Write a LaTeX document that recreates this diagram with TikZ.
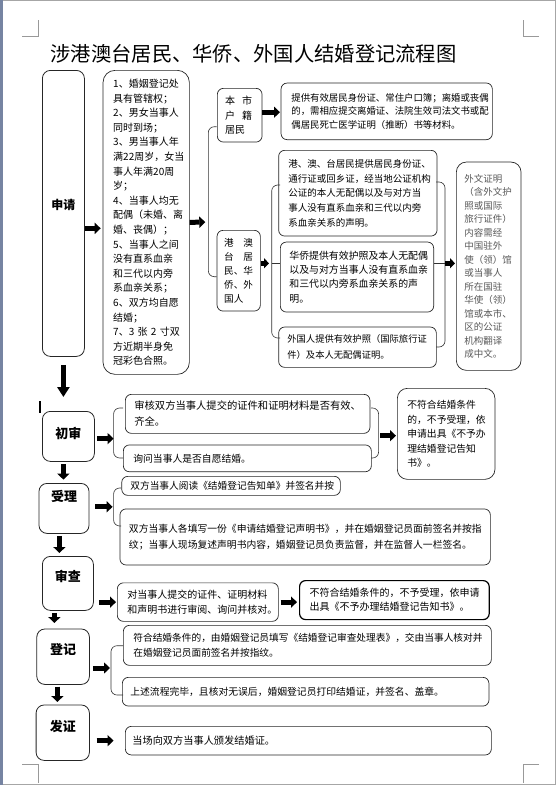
\documentclass[tikz,border=0pt]{standalone}
\usepackage{fontspec}
\setmainfont{Noto Sans CJK SC}
\usetikzlibrary{arrows.meta}
\definecolor{biankuang}{RGB}{118,132,162}

\begin{document}
\begin{tikzpicture}[x=1pt, y=-1pt,
  kuang/.style={draw=black!85, line width=0.7pt, rounded corners=6pt, anchor=north west, inner sep=0pt, align=left},
  jieduan/.style={draw=black!85, line width=0.8pt, rounded corners=8pt, anchor=north west, inner sep=0pt, font=\fontsize{13}{13}\selectfont\bfseries},
  kuohao/.style={draw=black!80, line width=0.6pt, rounded corners=6pt},
  jiantou/.style={line width=5pt, -{Triangle[length=6pt,width=11pt]}},
  xiajian/.style={line width=5pt, -{Triangle[length=6pt,width=12pt]}},
  caijian/.style={draw=black!40, line width=0.6pt}]
  \useasboundingbox (0,0) rectangle (556,785);
  \fill[white] (0,0) rectangle (556,785);
  \draw[black!35] (0.5,0.5) rectangle (555.5,784.5);
  \fill[biankuang] (0,0) rectangle (3,785);
  % crop marks
  \draw[caijian] (22,36) -- (38.6,36) -- (38.6,20);
  \draw[caijian] (539,36) -- (523,36) -- (523,20);
  \draw[caijian] (22,764) -- (38.6,764) -- (38.6,783);
  \draw[caijian] (539,764) -- (523,764) -- (523,783);
  \draw[line width=1.4pt] (40,401) -- (40,413);

  \node[anchor=west, font=\fontsize{20.3}{20.3}\selectfont] (biaoti) at (47,54) {涉港澳台居民、华侨、外国人结婚登记流程图};

  % stages
  \node[jieduan, minimum width=42pt, minimum height=286pt] (shenqing) at (42,70) {\raisebox{8pt}[\height][\depth]{\fontsize{12}{12}\selectfont 申请}};
  \node[jieduan, minimum width=52pt, minimum height=50pt] (chushen) at (42,411) {\raisebox{3pt}[\height][\depth]{初审}};
  \node[jieduan, minimum width=50pt, minimum height=50pt] (shouli) at (38.6,483) {\raisebox{12pt}[\height][\depth]{受理}};
  \node[jieduan, minimum width=51pt, minimum height=54pt] (shencha) at (42,556) {\raisebox{7pt}[\height][\depth]{审查}\hspace{10pt}};
  \node[jieduan, minimum width=52.6pt, minimum height=55.4pt] (dengji) at (36.4,628.6) {\raisebox{7pt}[\height][\depth]{登记}\hspace{7pt}};
  \node[jieduan, minimum width=53.3pt, minimum height=55.4pt] (fazheng) at (35.7,704.6) {\raisebox{6pt}[\height][\depth]{发证}\hspace{10pt}};

  % 申请
  \node[kuang, rounded corners=12pt, minimum width=86.3pt, minimum height=304pt, text width=66pt, font=\fontsize{10}{14.6}\selectfont] (tiaojian) at (102.7,70) {1、婚姻登记处\\具有管辖权；\\2、男女当事人\\同时到场；\\3、男当事人年\\满22周岁，女当\\事人年满20周\\岁；\\4、当事人均无\\配偶（未婚、离\\婚、丧偶）；\\5、当事人之间\\没有直系血亲\\和三代以内旁\\系血亲关系；\\6、双方均自愿\\结婚；\\7、3~张~2~寸双\\方近期半身免\\冠彩色合照。};
  \node[kuang, minimum width=44.7pt, minimum height=53.7pt, text width=29pt, font=\fontsize{10}{14.2}\selectfont] (benshi) at (217,88) {\mbox{本\hspace{7pt}市}\\\mbox{户\hspace{7pt}籍}\\居民};
  \node[kuang, minimum width=211.3pt, minimum height=56.6pt, text width=190.7pt, font=\fontsize{9.4}{13.7}\selectfont] (zhengjian) at (280.7,82.7) {提供有效居民身份证、常住户口簿；离婚或丧偶\\的，需相应提交离婚证、法院生效司法文书或配\\偶居民死亡医学证明（推断）书等材料。};
  \node[kuang, minimum width=43.3pt, minimum height=80.7pt, text width=29pt, font=\fontsize{9.6}{14}\selectfont] (gangao) at (216.7,230) {\mbox{港\hspace{9.5pt}澳}\\\mbox{台\hspace{9.5pt}居}\\民、华\\侨、外\\国人};
  \node[kuang, minimum width=158.4pt, minimum height=85.7pt, text width=139pt, font=\fontsize{9.5}{14.6}\selectfont] (gangaotai) at (278.3,150) {港、澳、台居民提供居民身份证、\\通行证或回乡证，经当地公证机构\\公证的本人无配偶以及与对方当\\事人没有直系血亲和三代以内旁\\系血亲关系的声明。};
  \node[kuang, minimum width=153.3pt, minimum height=70pt, text width=135.3pt, font=\fontsize{9.9}{14.4}\selectfont] (huaqiao) at (280,241.7) {华侨提供有效护照及本人无配偶\\以及与对方当事人没有直系血亲\\和三代以内旁系血亲关系的声\\明。};
  \node[kuang, minimum width=157.7pt, minimum height=40.3pt, text width=140.3pt, font=\fontsize{9.3}{15.7}\selectfont] (waiguoren) at (278.3,326.7) {外国人提供有效护照（国际旅行证\\件）及本人无配偶证明。};
  \node[kuang, rounded corners=10pt, minimum width=64.7pt, minimum height=208.3pt, text width=48.7pt, text=black!65, font=\fontsize{9.5}{13.5}\selectfont] (waiwen) at (456,161.7) {外文证明\\（含外文护\\照或国际\\旅行证件）\\内容需经\\中国驻外\\使（领）馆\\或当事人\\所在国驻\\华使（领）\\馆或本市、\\区的公证\\机构翻译\\成中文。};

  % 初审
  \node[kuang, minimum width=244.6pt, minimum height=39pt, text width=226.6pt, font=\fontsize{10.3}{16}\selectfont] (shenhe) at (125,394) {审核双方当事人提交的证件和证明材料是否有效、\\齐全。};
  \node[kuang, minimum width=248pt, minimum height=26.8pt, text width=228pt, font=\fontsize{9.8}{14}\selectfont] (xunwen) at (123,444.6) {询问当事人是否自愿结婚。};
  \node[kuang, rounded corners=10pt, minimum width=97.6pt, minimum height=91pt, text width=77.6pt, font=\fontsize{9.8}{14.5}\selectfont] (buhefu1) at (397,388) {不符合结婚条件\\的，不予受理，依\\申请出具《不予办\\理结婚登记告知\\书》。};

  % 受理
  \node[kuang, minimum width=218.6pt, minimum height=19pt, text width=201.4pt, font=\fontsize{9.7}{14}\selectfont] (yuedu) at (121.4,476) {双方当事人阅读《结婚登记告知单》并签名并按};
  \node[kuang, minimum width=370.4pt, minimum height=56pt, text width=352.4pt, font=\fontsize{9.8}{15.4}\selectfont] (tianxie) at (119.6,508.6) {双方当事人各填写一份《申请结婚登记声明书》，并在婚姻登记员面前签名并按指\\纹；当事人现场复述声明书内容，婚姻登记员负责监督，并在监督人一栏签名。};

  % 审查
  \node[kuang, minimum width=161pt, minimum height=38.5pt, text width=141pt, font=\fontsize{10}{14.2}\selectfont] (shenyue) at (117,582.5) {对当事人提交的证件、证明材料\\和声明书进行审阅、询问并核对。};
  \node[kuang, draw=black, line width=1.2pt, minimum width=189.6pt, minimum height=39pt, text width=169.6pt, font=\fontsize{10}{14}\selectfont] (buhefu2) at (299,580) {不符合结婚条件的，不予受理，依申请\\出具《不予办理结婚登记告知书》。};

  % 登记, 发证
  \node[kuang, minimum width=368pt, minimum height=40pt, text width=348pt, font=\fontsize{9.7}{15.7}\selectfont] (fuhe) at (123,625) {符合结婚条件的，由婚姻登记员填写《结婚登记审查处理表》，交由当事人核对并\\在婚姻登记员面前签名并按指纹。};
  \node[kuang, minimum width=366.6pt, minimum height=28.7pt, text width=350.6pt, font=\fontsize{9.8}{14}\selectfont] (dayin) at (122,677) {上述流程完毕，且核对无误后，婚姻登记员打印结婚证，并签名、盖章。};
  \node[kuang, minimum width=366pt, minimum height=28.6pt, text width=352pt, font=\fontsize{10.2}{14}\selectfont] (banfa) at (125,726) {当场向双方当事人颁发结婚证。};

  % brackets
  \draw[kuohao] (216.7,126.7) -- (208.3,126.7) -- (208.3,276.7) -- (216.7,276.7);
  \draw[kuohao] (280,185) -- (271.7,185) -- (271.7,338) -- (280,338);
  \draw[kuohao] (436,182) -- (445,182) -- (445,347) -- (436,347);
  \draw[kuohao] (123,408) -- (113.6,408) -- (113.6,458) -- (123,458);
  \draw[kuohao] (371,408) -- (378.6,408) -- (378.6,458) -- (371,458);
  \draw[kuohao] (121,488) -- (113.6,488) -- (113.6,526) -- (121,526);
  \draw[kuohao] (123,645.7) -- (111,645.7) -- (111,695) -- (123,695);
  \coordinate (k1) at (208.3,222);
  \coordinate (k2) at (271.7,263.3);
  \coordinate (k3) at (445,263.3);
  \coordinate (k4) at (113.6,438.6);
  \coordinate (k5) at (378.6,435.7);
  \coordinate (k6) at (113.6,506.8);
  \coordinate (k7) at (111,668);
  \draw[black!80, line width=0.6pt] (k2) -- (k2 -| huaqiao.west);
  \draw[black!80, line width=0.6pt] (k3 -| huaqiao.east) -- (k3);

  % arrows
  \draw[jiantou, shorten >=2pt] ([yshift=-6pt]shenqing.east |- tiaojian.west) -- ([yshift=-6pt]tiaojian.west);
  \draw[jiantou, shorten >=3pt] (tiaojian.east) -- (k1);
  \draw[jiantou, shorten >=0.7pt] ([yshift=3pt]benshi.east) -- ([yshift=3pt]benshi.east -| zhengjian.west);
  \draw[jiantou, -{Triangle[length=5pt,width=10pt]}, shorten >=2.7pt] (gangao.east |- k2) -- (k2);
  \draw[jiantou, -{Triangle[length=5pt,width=10pt]}, shorten >=1pt] (k3) -- (k3 -| waiwen.west);
  \draw[jiantou, shorten <=2.4pt] (chushen.east |- k4) -- (k4);
  \draw[jiantou, shorten <=1.4pt, shorten >=1pt] (k5) -- (k5 -| buhefu1.west);
  \draw[jiantou, shorten <=6pt, shorten >=1pt] (shouli.east |- k6) -- (k6);
  \draw[jiantou, shorten <=5pt, shorten >=1pt] (shencha.east |- shenyue.west) -- (shenyue.west);
  \draw[jiantou, shorten <=2pt, shorten >=2pt] (shenyue.east) -- (shenyue.east -| buhefu2.west);
  \draw[jiantou, shorten <=3pt, shorten >=1pt] (dengji.east |- k7) -- (k7);
  \draw[jiantou, shorten <=6.7pt, shorten >=11.4pt] (fazheng.east |- banfa.west) -- (banfa.west);

  \draw[xiajian, -{Triangle[length=10pt,width=12pt]}, shorten <=8pt, shorten >=14pt] (shenqing.south) -- (shenqing.south |- chushen.north);
  \draw[xiajian, shorten <=2.6pt, shorten >=3.4pt] ([xshift=-5pt]chushen.south) -- ([xshift=-5pt]chushen.south |- shouli.north);
  \draw[xiajian, shorten <=2pt, shorten >=3pt] ([xshift=-4.6pt]shouli.south) -- ([xshift=-4.6pt]shouli.south |- shencha.north);
  \draw[xiajian, shorten <=2pt, shorten >=5.6pt] ([xshift=-13.5pt]shencha.south) -- ([xshift=-13.5pt]shencha.south |- dengji.north);
  \draw[xiajian, shorten <=1.7pt, shorten >=2.6pt] ([xshift=-5.7pt]dengji.south) -- ([xshift=-5.7pt]dengji.south |- fazheng.north);
\end{tikzpicture}
\end{document}
